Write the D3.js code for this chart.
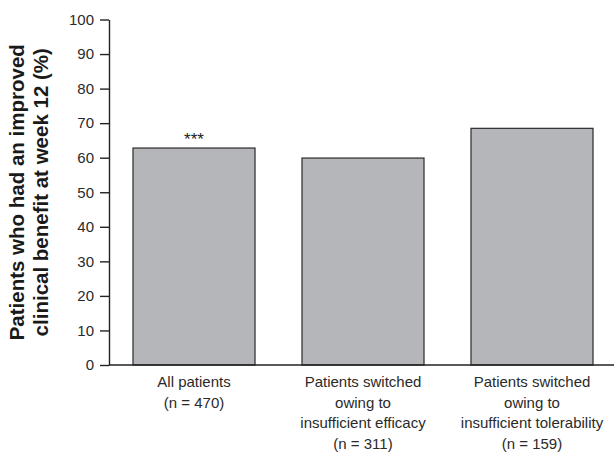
<!DOCTYPE html>
<html>
<head>
<meta charset="utf-8">
<script src="https://cdn.jsdelivr.net/npm/d3@7"></script>
<style>
  html, body { margin: 0; padding: 0; background: #fff; }
  svg { display: block; }
</style>
</head>
<body>
<svg id="chart" width="614" height="454"></svg>
<script>
const categories = ["all", "efficacy", "tolerability"];
const categoryLabels = [
  ["All patients", "(n = 470)"],
  ["Patients switched", "owing to", "insufficient efficacy", "(n = 311)"],
  ["Patients switched", "owing to", "insufficient tolerability", "(n = 159)"]
];
const values = [62.8, 59.9, 68.5];
const annotations = ["***", "", ""];
const yTicks = [0, 10, 20, 30, 40, 50, 60, 70, 80, 90, 100];
const yTitleLines = ["Patients who had an improved", "clinical benefit at week 12 (%)"];

const svg = d3.select("#chart");
const font = "Liberation Sans, Arial, Helvetica, sans-serif";

const x = d3.scaleBand().domain(categories).range([109, 617])
  .paddingInner(0.278).paddingOuter(0.142);
const y = d3.scaleLinear().domain([0, 100]).range([365, 19.5]);

// bars
svg.append("g").selectAll("rect").data(categories).join("rect")
  .attr("x", d => x(d))
  .attr("y", (d, i) => y(values[i]))
  .attr("width", x.bandwidth())
  .attr("height", (d, i) => y(0) - y(values[i]))
  .attr("fill", "#b5b6ba")
  .attr("stroke", "#2a2a2a")
  .attr("stroke-width", 1.2);

// annotations
svg.append("g").selectAll("text").data(categories).join("text")
  .attr("x", d => x(d) + x.bandwidth() / 2)
  .attr("y", (d, i) => y(values[i]) - 3)
  .attr("text-anchor", "middle")
  .attr("font-family", font)
  .attr("font-size", 17)
  .attr("fill", "#222")
  .text((d, i) => annotations[i]);

// y axis
const yAxis = svg.append("g").attr("transform", "translate(109,0)")
  .call(d3.axisLeft(y).tickValues(yTicks).tickSize(9).tickPadding(6).tickSizeOuter(0));
yAxis.select(".domain").attr("stroke", "#222").attr("stroke-width", 1.4);
yAxis.selectAll(".tick line").attr("stroke", "#222").attr("stroke-width", 1.4);
yAxis.selectAll(".tick text").attr("font-family", font).attr("font-size", 15).attr("fill", "#2a2a2a");

// x axis line
svg.append("line")
  .attr("x1", 109).attr("x2", 614)
  .attr("y1", y(0)).attr("y2", y(0))
  .attr("stroke", "#222").attr("stroke-width", 1.4);

// category labels
const catG = svg.append("g").selectAll("text").data(categories).join("text")
  .attr("x", d => x(d) + x.bandwidth() / 2)
  .attr("y", 387)
  .attr("text-anchor", "middle")
  .attr("font-family", font)
  .attr("font-size", 15)
  .attr("fill", "#2a2a2a");
catG.each(function(d, i) {
  const t = d3.select(this);
  categoryLabels[i].forEach((line, j) => {
    t.append("tspan")
      .attr("x", x(d) + x.bandwidth() / 2)
      .attr("dy", j === 0 ? 0 : 20.5)
      .text(line);
  });
});

// y title
const cy = (y(0) + y(100)) / 2;
svg.append("g").selectAll("text").data(yTitleLines).join("text")
  .attr("transform", (d, i) => `translate(${24 + i * 24},${cy}) rotate(-90)`)
  .attr("text-anchor", "middle")
  .attr("font-family", font)
  .attr("font-weight", "bold")
  .attr("font-size", 20.5)
  .attr("fill", "#1a1a1a")
  .text(d => d);
</script>
</body>
</html>
